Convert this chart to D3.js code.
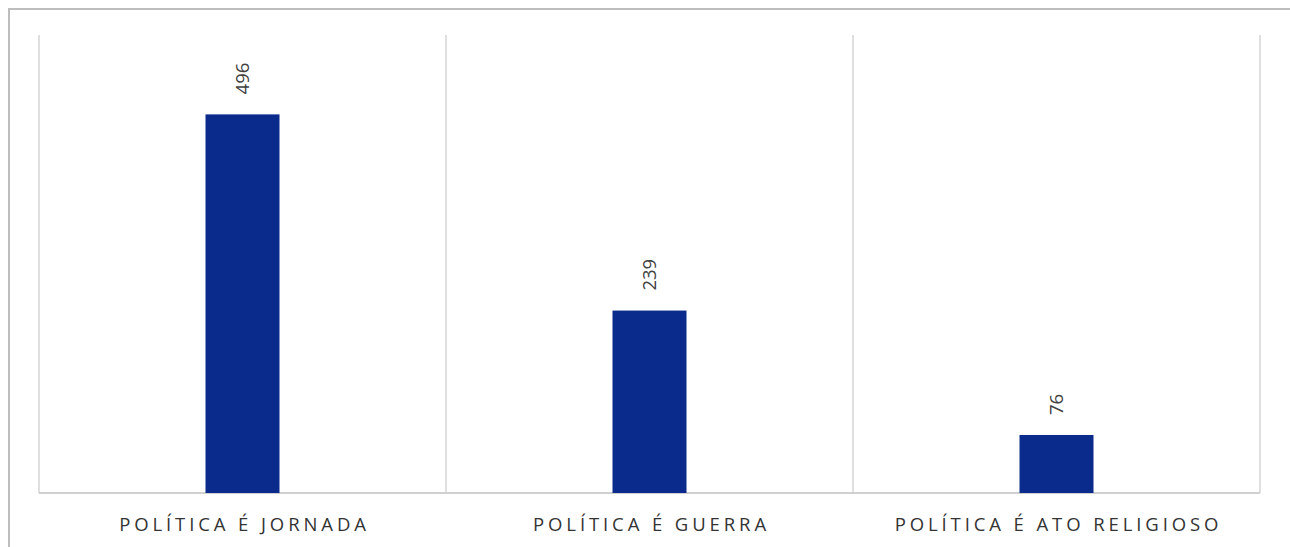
<!DOCTYPE html>
<html><head><meta charset="utf-8">
<script src="https://cdn.jsdelivr.net/npm/d3@7"></script>
<style>body{margin:0;background:#fff;}svg{display:block;}</style>
</head><body>
<svg id="c" width="1290" height="547"></svg>
<script>
const categories = ["POLÍTICA É JORNADA", "POLÍTICA É GUERRA", "POLÍTICA É ATO RELIGIOSO"];
const values = [496, 239, 76];
const yDomain = [0, 600];

const svg = d3.select("#c");
const W = 1290, H = 547;
const m = {left: 39, right: 30, top: 35, bottom: 54};
const plotW = W - m.left - m.right, plotH = H - m.top - m.bottom;

// outer frame (left and top edges)
svg.append("line").attr("x1", 9).attr("x2", 9).attr("y1", 8).attr("y2", H).attr("stroke", "#bdbdbd").attr("stroke-width", 2);
svg.append("line").attr("x1", 8).attr("x2", W).attr("y1", 9).attr("y2", 9).attr("stroke", "#bdbdbd").attr("stroke-width", 2);

const g = svg.append("g").attr("transform", `translate(${m.left},${m.top})`);
const x = d3.scaleBand().domain(categories).range([0, plotW]).paddingInner(0).paddingOuter(0);
const y = d3.scaleLinear().domain(yDomain).range([plotH, 0]);

// vertical separators at band edges
const edges = categories.map(c => x(c)).concat([plotW]);
g.selectAll("line.sep").data(edges).join("line")
  .attr("x1", d => d).attr("x2", d => d).attr("y1", 0).attr("y2", plotH)
  .attr("stroke", "#d4d4d4").attr("stroke-width", 1.5);

// baseline
g.append("line").attr("x1", 0).attr("x2", plotW).attr("y1", plotH).attr("y2", plotH)
  .attr("stroke", "#d0d0d0").attr("stroke-width", 2);

const barW = 74;
g.selectAll("rect.bar").data(values).join("rect")
  .attr("x", (d, i) => x(categories[i]) + x.bandwidth() / 2 - barW / 2)
  .attr("y", d => y(d))
  .attr("width", barW)
  .attr("height", d => plotH - y(d))
  .attr("fill", "#0a2a8c");

g.selectAll("text.val").data(values).join("text")
  .attr("transform", (d, i) => `translate(${x(categories[i]) + x.bandwidth() / 2 + 6.5},${y(d) - 20}) rotate(-90)`)
  .attr("text-anchor", "start")
  .attr("font-family", "'Open Sans', sans-serif")
  .attr("font-size", 18.5)
  .attr("fill", "#404040")
  .text(d => d);

g.selectAll("text.cat").data(categories).join("text")
  .attr("x", d => x(d) + x.bandwidth() / 2 + 2)
  .attr("y", plotH + 38)
  .attr("text-anchor", "middle")
  .attr("font-family", "'Open Sans', sans-serif")
  .attr("font-size", 18.5)
  .attr("letter-spacing", 3.9)
  .attr("fill", "#333")
  .text(d => d);
</script>
</body></html>
